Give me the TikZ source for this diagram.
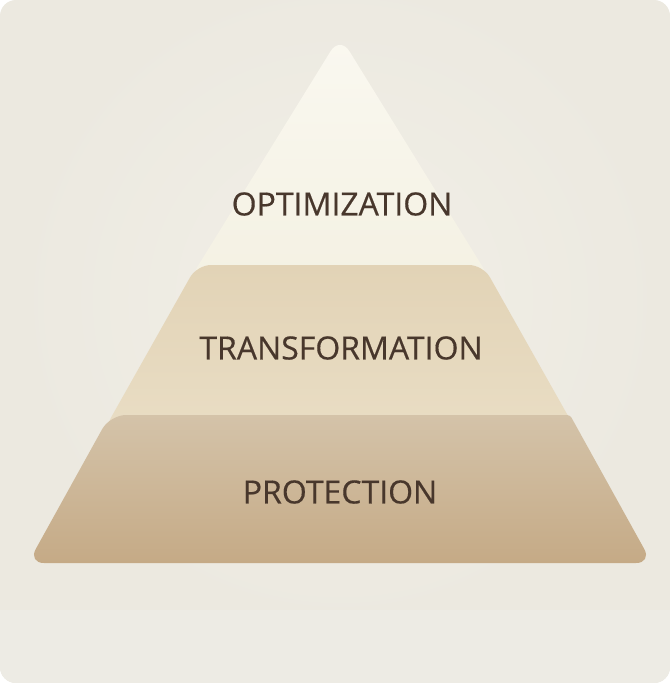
\documentclass[tikz,border=0pt]{standalone}
\usepackage{fontspec}
\setmainfont{Open Sans}
\newfontfamily\labelfont{Open Sans}[FakeBold=0.4]
\definecolor{cardbg}{HTML}{ECE9E0}
\definecolor{cardlow}{HTML}{EDEBE4}
\definecolor{glowcol}{HTML}{F1EFE7}
\definecolor{tipcol}{HTML}{FAF8F0}
\definecolor{tipbase}{HTML}{F4F1E3}
\definecolor{midtop}{HTML}{E2D3B6}
\definecolor{midbot}{HTML}{E9DDC4}
\definecolor{bottop}{HTML}{D4C3A9}
\definecolor{botbot}{HTML}{C5AA86}
\definecolor{labelcol}{HTML}{48372C}
\tikzset{
  layerlabel/.style={text=labelcol, font=\labelfont\fontsize{32}{36}\selectfont, inner sep=0pt, anchor=center},
}
\begin{document}
\begin{tikzpicture}[x=1pt,y=-1pt]
\useasboundingbox (0,0) rectangle (670,683);
\fill[white] (0,0) rectangle (670,683);
% card
\begin{scope}
\clip[rounded corners=16pt] (0,0) rectangle (670,683);
\fill[cardbg] (0,0) rectangle (670,683);
\shade[inner color=glowcol, outer color=cardbg] (340,300) circle (330);
\fill[cardlow] (0,610) rectangle (670,683);
\end{scope}
% top triangle
\shade[top color=tipcol, bottom color=tipbase, rounded corners=18pt]
  (188,282) -- (340,36) -- (492,282) -- cycle;
% middle layer
\shade[top color=midtop, bottom color=midbot, rounded corners=14pt]
  (104,430) -- (197,265) -- (483,265) -- (576,430) -- cycle;
% bottom layer
\shade[top color=bottop, bottom color=botbot, rounded corners=16pt]
  (28,563) -- (110,415) [rounded corners=3pt] -- (570,415) [rounded corners=16pt] -- (652,563) -- cycle;
% labels
\node[layerlabel] (opt) at (342,204) {OPTIMIZATION};
\node[layerlabel] (trans) at (341,348) {TRANSFORMATION};
\node[layerlabel] (prot) at (340,492) {PROTECTION};
\end{tikzpicture}
\end{document}
